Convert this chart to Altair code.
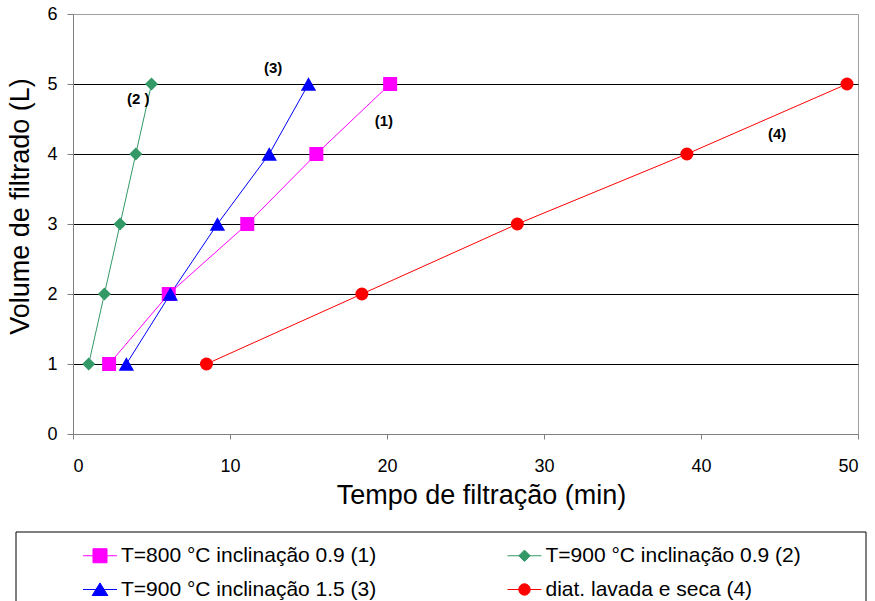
import altair as alt
import pandas as pd

# ---------------- data ----------------
series_names = [
    "T=800 °C inclinação 0.9 (1)",
    "T=900 °C inclinação 0.9 (2)",
    "T=900 °C inclinação 1.5 (3)",
    "diat. lavada e seca (4)",
]
series_colors = ["#FF00FF", "#339966", "#0000FF", "#FF0000"]
marker_shapes = ["square", "diamond", "triangle-up", "circle"]
marker_sizes = [196, 170, 235, 169]

volume_l = [1, 2, 3, 4, 5]
tempo_s1 = [2.3, 6.1, 11.1, 15.5, 20.2]
tempo_s2 = [1.0, 2.0, 3.0, 4.0, 5.0]
tempo_s3 = [3.4, 6.2, 9.2, 12.5, 15.0]
tempo_s4 = [8.5, 18.4, 28.3, 39.1, 49.3]

label_text = ["(1)", "(2 )", "(3)", "(4)"]
label_tempo = [19.8, 4.15, 12.75, 44.85]
label_volume = [4.47, 4.79, 5.23, 4.29]

x_ticks = [0, 10, 20, 30, 40, 50]
y_ticks = [0, 1, 2, 3, 4, 5, 6]

# legend glyphs: short line + marker (custom symbol paths)
leg_line = "M-2.83,0H2.83"
legend_paths = [
    leg_line + "M-1.17,-1.17H1.17V1.17H-1.17Z",
    leg_line + "M0,-0.95L0.95,0L0,0.95L-0.95,0Z",
    leg_line + "M0,-1.1L1.3,1L-1.3,1Z",
    leg_line + "M0.95,0A0.95,0.95 0 1,1 -0.95,0A0.95,0.95 0 1,1 0.95,0Z",
]

rows = []
for name, ts in zip(series_names, [tempo_s1, tempo_s2, tempo_s3, tempo_s4]):
    for t, v in zip(ts, volume_l):
        rows.append({"serie": name, "tempo": t, "volume": v})
df = pd.DataFrame(rows)
ann = pd.DataFrame({"txt": label_text, "tempo": label_tempo, "volume": label_volume})

FONT = "Liberation Sans"

x_enc = alt.X(
    "tempo:Q",
    scale=alt.Scale(domain=[0, 50], nice=False),
    axis=alt.Axis(
        values=x_ticks, grid=False, title="Tempo de filtração (min)",
        tickSize=5, tickColor="#808080", domainColor="#808080",
        labelFontSize=18, labelPadding=18, labelColor="black", labelFont=FONT,
        titleFontSize=27, titleFontWeight="normal", titleFont=FONT, titleColor="black",
        titleX=408, titleY=69, titleBaseline="alphabetic", titleAlign="center",
    ),
)
y_enc = alt.Y(
    "volume:Q",
    scale=alt.Scale(domain=[0, 6], nice=False),
    axis=alt.Axis(
        values=y_ticks, grid=True, gridColor="black", gridWidth=1,
        gridOpacity=alt.condition("datum.value == 0 || datum.value == 6", alt.value(0), alt.value(1)),
        title="Volume de filtrado (L)",
        tickSize=6, tickColor="#808080", domainColor="#808080",
        labelFontSize=18, labelPadding=10, labelColor="black", labelFont=FONT,
        titleFontSize=27, titleFontWeight="normal", titleFont=FONT, titleColor="black",
        titleAngle=270, titleX=-45, titleY=192, titleBaseline="alphabetic", titleAlign="center",
    ),
)

color_scale = alt.Scale(domain=series_names, range=series_colors)

lines = alt.Chart(df).mark_line(strokeWidth=1).encode(
    x=x_enc, y=y_enc,
    color=alt.Color("serie:N", scale=color_scale, legend=None),
    order="volume:Q",
)

point_layers = []
for name, shp, sz in zip(series_names, marker_shapes, marker_sizes):
    point_layers.append(
        alt.Chart(df)
        .transform_filter(alt.datum.serie == name)
        .mark_point(shape=shp, size=sz, filled=True, opacity=1)
        .encode(x=x_enc, y=y_enc,
                color=alt.Color("serie:N", scale=color_scale, legend=None))
    )

labels = alt.Chart(ann).mark_text(
    font=FONT, fontSize=15, fontWeight="bold", color="black"
).encode(x=x_enc, y=y_enc, text="txt:N")

leg = alt.Legend(
    title=None, orient="none", legendX=16.5, legendY=531, direction="horizontal",
    columns=2, columnPadding=128.5, rowPadding=12,
    labelFontSize=21, labelFont=FONT, labelColor="black", labelOffset=10.5, labelLimit=400,
    symbolSize=144, symbolStrokeWidth=1, symbolOpacity=1, padding=0,
)
legend_layer = (
    alt.Chart(df)
    .mark_point(filled=True, size=144, strokeWidth=1, opacity=0)
    .encode(
        x=x_enc, y=y_enc,
        shape=alt.Shape("serie:N", scale=alt.Scale(domain=series_names, range=legend_paths), legend=leg),
        fill=alt.Fill("serie:N", scale=alt.Scale(domain=series_names, range=series_colors), legend=leg),
        stroke=alt.Stroke("serie:N", scale=alt.Scale(domain=series_names, range=series_colors), legend=leg),
    )
)

legend_box = alt.Chart(pd.DataFrame({"k": [0]})).mark_rect(
    fill="transparent", stroke="black", strokeWidth=1
).encode(x=alt.value(-57), x2=alt.value(793), y=alt.value(518), y2=alt.value(600))

chart = (
    alt.layer(legend_layer, lines, *point_layers, labels, legend_box)
    .properties(
        width=785, height=420,
        padding={"left": 73, "top": 14, "right": 17, "bottom": 167},
        autosize=alt.AutoSizeParams(type="none"),
        background="white",
    )
    .configure_view(stroke="#a0a0a0", strokeWidth=1)
)

chart.save("out.html", embed_options={"renderer": "svg", "actions": False})
